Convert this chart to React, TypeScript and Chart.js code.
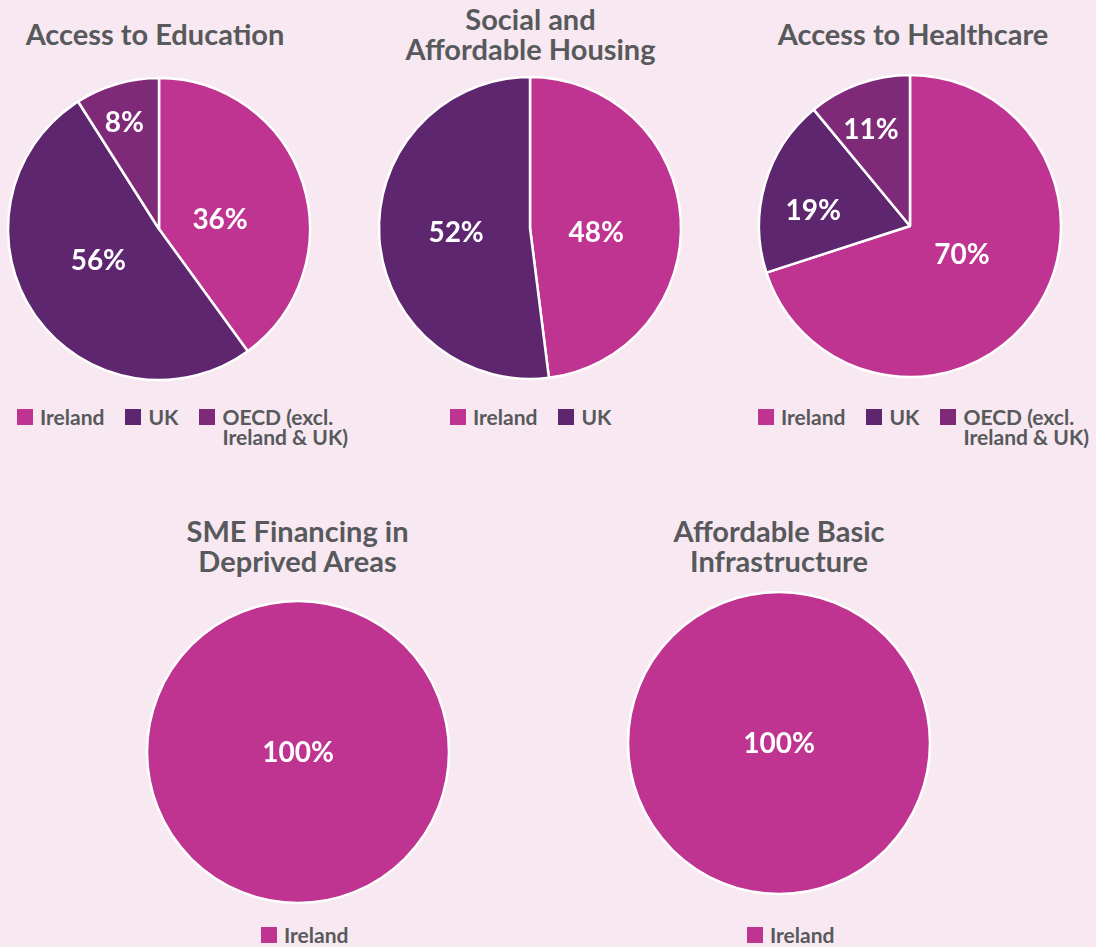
import React, { useEffect, useRef } from "react";
import { Chart, registerables } from "chart.js";

Chart.register(...registerables);

// ---------- colours ----------
const BG = "#f7e8f2";
const TEXT = "#58595b";
const IRELAND = "#bf3491";
const UK = "#5f2670";
const OECD = "#7f2a78";

// ---------- data ----------
const educationCategories = ["Ireland", "UK", "OECD (excl.\nIreland & UK)"];
const educationShares = [40, 51, 9]; // slice sizes as drawn in the picture
const educationLabels = ["36%", "56%", "8%"]; // values printed on the slices

const housingCategories = ["Ireland", "UK"];
const housingShares = [48, 52];
const housingLabels = ["48%", "52%"];

const healthcareCategories = ["Ireland", "UK", "OECD (excl.\nIreland & UK)"];
const healthcareShares = [70, 19, 11];
const healthcareLabels = ["70%", "19%", "11%"];

const smeCategories = ["Ireland"];
const smeShares = [100];
const smeLabels = ["100%"];

const infraCategories = ["Ireland"];
const infraShares = [100];
const infraLabels = ["100%"];

// ---------- layout ----------
const RADIUS = 151;
const CANVAS = 340;
const BORDER = 2.5;

type Panel = {
  title: string[];
  titleX: number;
  titleTop: number;
  cx: number;
  cy: number;
  categories: string[];
  shares: number[];
  labels: string[];
  colors: string[];
  labelPos: [number, number][]; // [angle from top (deg, clockwise), fraction of radius]
  legendX: number;
  legendTop: number;
};

const panels: Panel[] = [
  {
    title: ["Access to Education"],
    titleX: 155,
    titleTop: 18.5,
    cx: 159,
    cy: 228.8,
    categories: educationCategories,
    shares: educationShares,
    labels: educationLabels,
    colors: [IRELAND, UK, OECD],
    labelPos: [
      [80.7, 0.41],
      [243.2, 0.45],
      [342.1, 0.745],
    ],
    legendX: 17,
    legendTop: 406.9,
  },
  {
    title: ["Social and", "Affordable Housing"],
    titleX: 530.5,
    titleTop: 3.5,
    cx: 530,
    cy: 227.8,
    categories: housingCategories,
    shares: housingShares,
    labels: housingLabels,
    colors: [IRELAND, UK],
    labelPos: [
      [93.2, 0.44],
      [267.2, 0.49],
    ],
    legendX: 450,
    legendTop: 406.9,
  },
  {
    title: ["Access to Healthcare"],
    titleX: 913,
    titleTop: 18.5,
    cx: 910,
    cy: 225.8,
    categories: healthcareCategories,
    shares: healthcareShares,
    labels: healthcareLabels,
    colors: [IRELAND, UK, OECD],
    labelPos: [
      [118, 0.39],
      [279.2, 0.65],
      [338, 0.69],
    ],
    legendX: 758,
    legendTop: 406.9,
  },
  {
    title: ["SME Financing in", "Deprived Areas"],
    titleX: 297.5,
    titleTop: 516,
    cx: 298,
    cy: 752,
    categories: smeCategories,
    shares: smeShares,
    labels: smeLabels,
    colors: [IRELAND],
    labelPos: [[0, 0]],
    legendX: 261,
    legendTop: 924.6,
  },
  {
    title: ["Affordable Basic", "Infrastructure"],
    titleX: 779,
    titleTop: 516,
    cx: 779,
    cy: 743,
    categories: infraCategories,
    shares: infraShares,
    labels: infraLabels,
    colors: [IRELAND],
    labelPos: [[0, 0]],
    legendX: 747,
    legendTop: 924.6,
  },
];

function makeLabelPlugin(p: Panel) {
  return {
    id: "sliceLabels",
    afterDatasetsDraw(chart: any) {
      const ctx = chart.ctx as CanvasRenderingContext2D;
      const meta = chart.getDatasetMeta(0);
      ctx.save();
      if (p.shares.length === 1 && meta.data[0]) {
        const { x, y, outerRadius } = meta.data[0].getProps(["x", "y", "outerRadius"], true);
        ctx.beginPath();
        ctx.arc(x, y, outerRadius, 0, Math.PI * 2);
        ctx.lineWidth = BORDER;
        ctx.strokeStyle = "#ffffff";
        ctx.stroke();
      }
      ctx.font = "700 28px Lato";
      ctx.fillStyle = "#ffffff";
      ctx.textAlign = "center";
      ctx.textBaseline = "alphabetic";
      meta.data.forEach((arc: any, i: number) => {
        const { x, y, outerRadius } = arc.getProps(["x", "y", "outerRadius"], true);
        const [deg, frac] = p.labelPos[i];
        const a = (deg * Math.PI) / 180 - Math.PI / 2;
        ctx.fillText(
          p.labels[i],
          x + Math.cos(a) * frac * outerRadius,
          y + Math.sin(a) * frac * outerRadius + 10
        );
      });
      ctx.restore();
    },
  };
}

function PieChart({ p }: { p: Panel }) {
  const ref = useRef<HTMLCanvasElement>(null);
  useEffect(() => {
    let chart: Chart | null = null;
    let cancelled = false;
    const make = () => {
      if (cancelled || !ref.current) return;
      chart = new Chart(ref.current, {
        type: "pie",
        data: {
          labels: p.categories,
          datasets: [
            {
              data: p.shares,
              backgroundColor: p.colors,
              borderColor: "#ffffff",
              borderWidth: p.shares.length > 1 ? BORDER : 0,
              hoverOffset: 0,
            },
          ],
        },
        options: {
          animation: false,
          responsive: false,
          maintainAspectRatio: false,
          radius: RADIUS,
          events: [],
          layout: { padding: 0 },
          plugins: {
            legend: { display: false },
            tooltip: { enabled: false },
            title: { display: false },
          },
        } as any,
        plugins: [makeLabelPlugin(p)],
      });
    };
    const fonts = (document as any).fonts;
    if (fonts && fonts.load) {
      fonts.load("700 28px Lato").then(make, make);
    } else {
      make();
    }
    return () => {
      cancelled = true;
      if (chart) chart.destroy();
    };
  }, [p]);
  return (
    <canvas
      ref={ref}
      width={CANVAS}
      height={CANVAS}
      style={{
        position: "absolute",
        left: p.cx - CANVAS / 2,
        top: p.cy - CANVAS / 2,
        width: CANVAS,
        height: CANVAS,
      }}
    />
  );
}

function Legend({ p }: { p: Panel }) {
  return (
    <div
      style={{
        position: "absolute",
        left: p.legendX,
        top: p.legendTop,
        display: "flex",
        flexDirection: "row",
        columnGap: 21,
        alignItems: "flex-start",
      }}
    >
      {p.categories.map((c, i) => (
        <div key={c} style={{ display: "flex", alignItems: "flex-start" }}>
          <div
            style={{
              width: 16,
              height: 16,
              marginTop: 2.4,
              background: p.colors[i],
              flex: "none",
            }}
          />
          <div
            style={{
              marginLeft: 7,
              font: "700 21px Lato",
              lineHeight: "20px",
              color: TEXT,
              whiteSpace: "pre",
            }}
          >
            {c}
          </div>
        </div>
      ))}
    </div>
  );
}

function Title({ p }: { p: Panel }) {
  return (
    <div
      style={{
        position: "absolute",
        left: p.titleX - 200,
        top: p.titleTop,
        width: 400,
        textAlign: "center",
        font: "700 29px Lato",
        lineHeight: "30px",
        color: TEXT,
      }}
    >
      {p.title.map((t, i) => (
        <div key={i}>{t}</div>
      ))}
    </div>
  );
}

export default function App() {
  return (
    <div
      style={{
        position: "absolute",
        left: 0,
        top: 0,
        width: 1096,
        height: 947,
        background: BG,
        overflow: "hidden",
      }}
    >
      {panels.map((p, i) => (
        <React.Fragment key={i}>
          <Title p={p} />
          <PieChart p={p} />
          <Legend p={p} />
        </React.Fragment>
      ))}
    </div>
  );
}
